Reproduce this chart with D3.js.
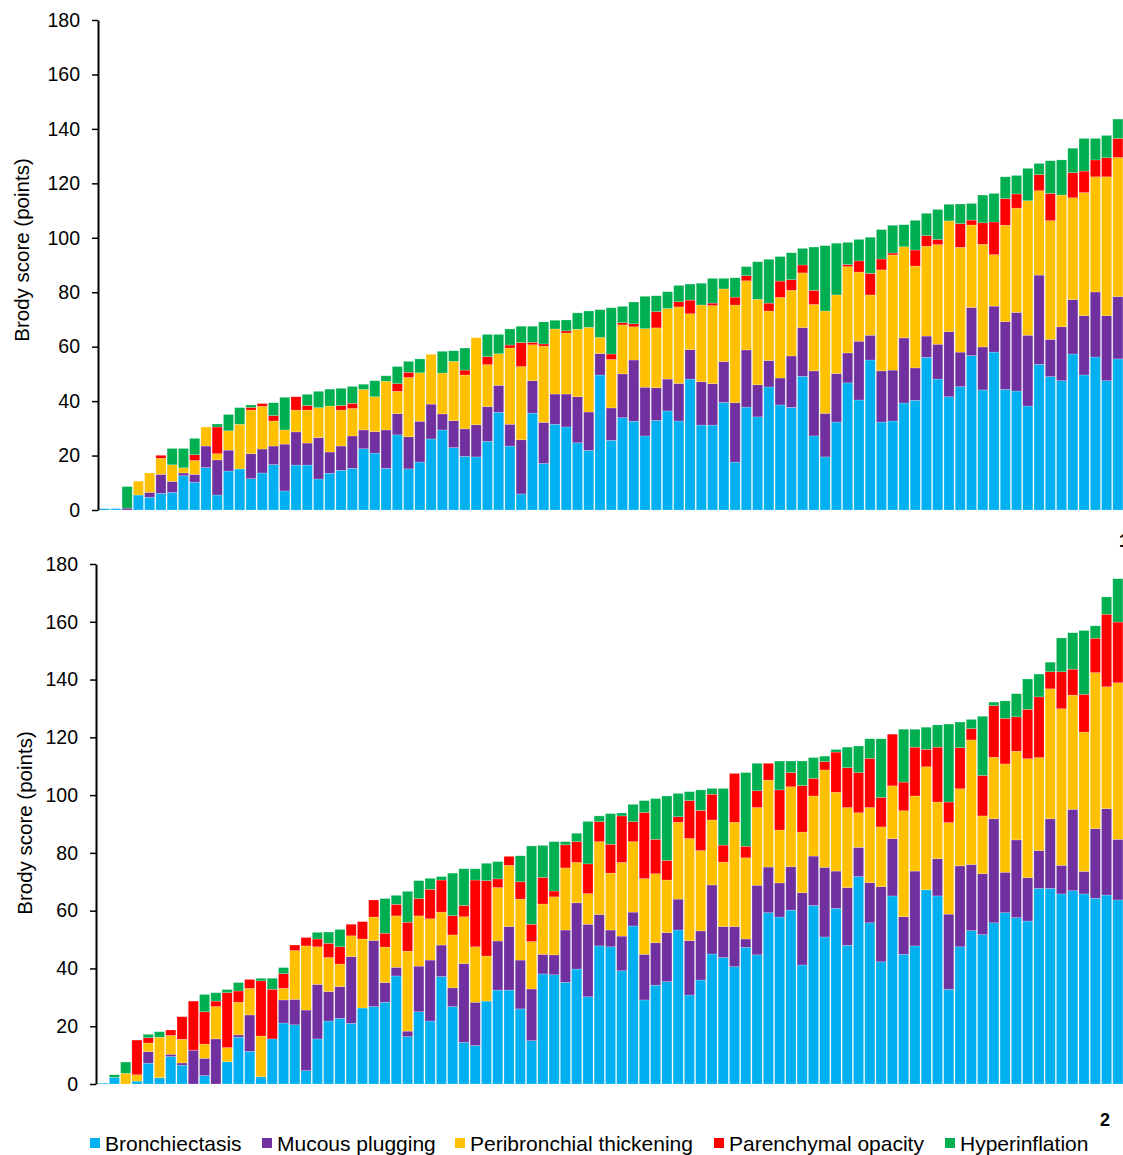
<!DOCTYPE html>
<html><head><meta charset="utf-8">
<script src="https://cdn.jsdelivr.net/npm/d3@7"></script>
<style>body{margin:0;background:#fff}svg{display:block}text{font-family:Arial,"Liberation Sans",sans-serif}</style>
</head><body>
<svg id="c" width="1123" height="1155"></svg>
<script>
const seriesNames = ["Bronchiectasis","Mucous plugging","Peribronchial thickening","Parenchymal opacity","Hyperinflation"];
const seriesColors = ["#00B0F0","#7030A0","#FFC000","#FF0000","#00B050"];
const yTicks = [0,20,40,60,80,100,120,140,160,180];

const topBronch = [0.5,0.5,0,5.5,4.7,6.1,6.5,12.6,10.2,15.6, 5.5,14.3,15.1,11.5,13.6,16.7,7.0,16.5,16.5,11.4, 13.5,14.6,15.3,22.5,20.9,15.3,27.6,15.1,17.6,26.1, 29.4,22.9,19.7,19.5,25.2,35.9,23.5,5.9,35.6,17.1, 31.5,30.5,24.7,21.9,49.6,25.6,33.9,32.6,27.2,32.9, 36.4,32.7,48.1,31.2,31.2,39.5,17.6,37.8,34.2,45.2, 38.6,37.7,49.1,27.2,19.5,32.3,46.7,40.4,55.1,32.3, 32.7,39.3,40.3,56.1,48.1,41.6,45.3,56.7,44.1,58.0, 44.3,43.7,38.2,53.5,49.0,47.5,57.3,49.6,56.2,47.5, 55.5];
const topMucous = [0,0,0.7,0,1.8,7.0,4.0,1.0,2.9,7.9, 12.9,7.7,0,9.2,8.8,6.8,17.2,12.2,8.1,15.2, 7.8,8.9,11.9,6.9,7.9,14.1,7.8,11.8,15.0,12.8, 5.9,9.9,10.1,11.8,12.8,9.9,8.0,19.9,11.9,15.1, 11.1,12.1,16.9,14.1,7.9,11.9,16.1,22.5,17.9,12.0, 11.7,13.8,10.8,15.9,15.2,15.0,21.8,21.0,11.8,9.7, 9.9,18.9,17.9,23.9,16.0,17.8,11.0,21.6,9.1,18.8, 18.7,23.9,11.9,7.8,12.8,23.9,12.7,17.7,15.8,16.9, 24.9,28.9,26.0,32.8,13.7,19.8,20.0,21.8,23.9,23.9, 22.9];
const topPeri = [0,0,0,5.1,7.1,5.9,6.1,1.9,5.1,7.0, 2.3,7.1,16.4,16.0,15.7,9.2,5.2,8.0,12.1,11.0, 16.9,13.2,10.1,14.9,12.8,17.9,8.2,21.8,17.8,18.3, 15.0,21.8,19.8,32.0,15.4,11.6,28.0,26.9,13.2,28.0, 23.9,22.4,24.8,31.1,5.9,17.8,18.0,12.2,21.5,22.0, 25.9,28.1,13.2,28.2,28.7,26.7,35.9,25.4,31.4,18.2, 29.6,24.1,20.1,24.4,37.6,28.9,31.7,25.4,14.8,37.1, 42.3,33.5,37.4,33.0,36.6,40.7,38.5,30.3,37.7,18.9, 35.4,38.3,49.4,31.0,43.6,48.4,37.4,45.2,42.3,51.0, 51.1];
const topParen = [0,0,0,0,0,1.1,0,0,2.1,0, 9.8,0,0,1.0,1.0,2.0,0,4.9,1.7,0, 0,1.7,1.9,0,0,0,2.8,1.9,0,0, 0,0,1.8,0,2.9,0,1.1,8.8,0.9,0.8, 0,0.8,0,0,0,2.0,0.8,1.1,0,6.0, 0,1.9,5.0,0,0.9,0,2.9,1.9,0,2.9, 6.0,3.9,2.9,5.2,0,0,0.8,4.1,7.9,4.0, 0.7,0,5.9,3.9,1.9,0,8.7,1.8,7.9,12.0, 9.8,5.2,0,5.9,10.0,0,9.2,7.9,6.2,7.0, 7.0];
const topHyper = [0,0,7.9,0,0,0,6.0,7.1,6.0,0, 1.1,6.0,6.1,0.9,0,4.7,12.0,0,4.1,6.0, 6.2,6.3,6.2,1.9,5.9,2.0,6.3,4.0,5.1,0, 8.0,3.9,8.1,0,8.2,7.1,5.9,6.0,5.9,8.1, 3.2,4.0,6.0,6.0,10.2,17.0,6.0,8.0,11.9,5.8, 6.2,6.0,5.9,8.0,9.1,3.9,7.1,3.3,13.8,16.1, 9.0,9.9,6.1,15.9,24.0,19.0,8.1,7.9,13.3,10.8, 10.2,8.1,10.9,8.2,11.0,6.1,7.2,6.1,10.2,10.5, 8.0,6.8,11.9,4.1,12.0,12.9,9.0,12.0,7.9,8.2, 7.1];

const botBronch = [0.3,2.3,0,1.0,7.2,2.2,9.5,6.5,0,2.9, 0,7.7,16.2,11.3,2.5,15.6,21.1,20.5,4.6,15.6, 21.8,22.7,21.0,26.3,26.8,28.3,37.4,16.4,25.0,21.8, 37.2,26.8,14.4,13.3,28.7,32.5,32.5,26.0,15.0,38.1, 37.8,35.2,39.8,30.2,47.8,47.5,39.2,54.7,29.1,34.2, 35.4,53.3,30.8,36.0,45.0,43.8,40.6,47.3,44.7,59.3, 57.8,60.2,41.2,61.8,50.9,60.8,48.0,71.8,55.8,42.3, 65.1,44.9,47.8,67.2,65.1,32.8,47.5,53.1,51.7,55.8, 59.3,57.6,56.4,67.7,67.7,65.8,66.9,65.8,64.3,65.4, 63.7];
const botMucous = [0,0,0,0,4.0,0,0.8,0.8,11.7,6.0, 15.6,0,0.8,12.6,0,0,8.0,8.8,21.0,18.9, 10.2,11.0,23.1,0,22.9,6.8,3.0,1.9,15.8,21.1, 10.9,6.5,27.3,15.0,0,17.0,22.0,16.9,17.9,6.8, 6.9,18.1,22.9,25.1,10.9,5.8,12.0,4.8,15.8,14.7, 17.0,10.7,18.8,17.0,23.9,10.7,13.9,2.9,24.1,15.8, 11.8,15.0,25.0,17.1,24.1,12.9,20.0,10.1,13.9,26.0, 19.8,13.0,25.9,0,12.9,26.0,28.0,22.9,21.1,36.0, 14.0,26.9,15.0,13.1,24.1,9.9,28.2,7.8,24.1,29.9, 21.0];
const botPeri = [0,0,3.7,2.2,3.0,14.0,6.5,8.2,0,4.9, 11.2,4.9,11.3,9.2,14.1,0,4.0,16.9,22.2,13.0, 11.8,7.8,7.2,23.9,8.1,12.3,17.8,27.7,17.4,14.3, 11.4,18.3,16.2,19.2,15.6,18.5,21.2,21.1,16.4,17.4, 20.1,21.5,14.0,10.6,25.2,19.7,25.5,24.4,26.2,23.9, 18.2,26.6,35.4,27.8,22.5,22.3,36.1,28.1,26.9,30.1, 18.3,27.7,21.0,20.8,33.7,27.3,27.7,12.0,26.0,20.7, 18.3,36.7,26.0,42.6,19.6,31.7,26.7,43.1,20.0,21.3, 37.5,30.7,41.2,32.2,45.0,54.2,39.5,48.2,54.0,42.2, 54.2];
const botParen = [0,0,0,12.0,1.8,0,1.9,7.8,17.0,11.2, 1.9,19.0,3.9,3.1,19.1,17.2,5.1,1.9,2.9,2.7, 4.9,6.0,4.0,6.0,5.9,4.8,4.0,10.0,6.0,10.2, 11.1,6.7,3.9,23.1,26.1,3.0,3.1,6.0,6.0,9.2, 2.0,8.0,7.2,10.3,6.9,10.0,16.1,6.9,22.9,11.9, 6.8,1.9,13.1,13.9,8.9,5.9,16.9,4.0,5.8,5.8, 13.9,4.9,16.1,6.1,2.9,13.9,13.8,13.9,17.0,10.2, 17.9,9.9,16.9,6.0,19.0,7.1,14.2,3.9,14.0,17.9, 15.8,11.9,17.1,21.0,5.9,12.8,9.0,13.1,11.9,25.1, 21.0];
const botHyper = [0,0.9,3.9,0,1.2,1.9,0,0,0,6.0, 2.9,1.1,2.9,0,0.9,3.8,2.1,0,0,2.3, 3.9,6.0,0,0,0,12.0,3.1,10.7,6.2,3.8, 1.2,14.7,12.7,3.9,6.0,6.0,0,9.0,27.1,11.1, 17.1,1.1,2.9,14.7,2.0,10.6,1.0,6.0,4.1,14.1, 22.3,8.1,3.1,7.1,2.0,19.6,0,25.5,9.5,0, 10.0,4.0,8.5,7.2,1.9,0.9,7.1,9.2,6.8,20.3, 0,18.3,6.2,7.7,7.7,27.0,8.9,3.2,20.5,1.2, 6.0,8.0,10.5,7.9,3.3,11.7,12.6,22.1,4.3,6.0, 15.0];

const svg = d3.select("#c");
const keys = ["b","m","p","r","g"];

function drawChart(cfg){
  const n = cfg.series[0].length;
  const rows = d3.range(n).map(i => ({i, b:cfg.series[0][i], m:cfg.series[1][i], p:cfg.series[2][i], r:cfg.series[3][i], g:cfg.series[4][i]}));
  const x = d3.scaleBand().domain(d3.range(n)).range([cfg.x0, cfg.x1]).paddingInner(0.1).paddingOuter(0.05);
  const y = d3.scaleLinear().domain([0,180]).range([cfg.yBottom, cfg.yTop]);
  const stack = d3.stack().keys(keys)(rows);
  const g = svg.append("g");
  g.selectAll("g.s").data(stack).join("g").attr("fill", (d,k)=>seriesColors[k])
    .selectAll("rect").data(d=>d).join("rect")
    .attr("x", d=>x(d.data.i)).attr("width", x.bandwidth())
    .attr("y", d=>y(d[1])).attr("height", d=>Math.max(0, y(d[0])-y(d[1])))
    .attr("stroke","rgba(255,255,255,0.35)").attr("stroke-width",0.6);
  const ax = g.append("g").attr("transform",`translate(${cfg.axisX},0)`)
    .call(d3.axisLeft(y).tickValues(yTicks).tickSize(6).tickPadding(12).tickSizeOuter(0));
  ax.select(".domain").attr("stroke","#000").attr("stroke-width",2);
  ax.selectAll(".tick line").attr("stroke","#000").attr("stroke-width",1.5);
  ax.selectAll(".tick text").attr("font-size",19.5).attr("fill","#000").attr("font-family","Arial, Liberation Sans, sans-serif");
  g.append("text").attr("transform",`translate(${cfg.labelX},${cfg.labelY}) rotate(-90)`)
    .attr("text-anchor","middle").attr("font-size",20.5).attr("fill","#000").text("Brody score (points)");
}

drawChart({series:[topBronch,topMucous,topPeri,topParen,topHyper], x0:99, x1:1123.5, yTop:20, yBottom:510, axisX:98, labelX:29, labelY:250});
drawChart({series:[botBronch,botMucous,botPeri,botParen,botHyper], x0:97.5, x1:1123.5, yTop:564, yBottom:1084, axisX:96, labelX:32, labelY:823});

svg.append("text").attr("x",1119).attr("y",547).attr("font-size",18).attr("font-weight","bold").text("1");
svg.append("text").attr("x",1100).attr("y",1126).attr("font-size",18).attr("font-weight","bold").text("2");

const legendX = [90, 262, 455, 714, 945];
const lg = svg.append("g");
seriesNames.forEach((name,k)=>{
  lg.append("rect").attr("x",legendX[k]).attr("y",1138).attr("width",10).attr("height",10).attr("fill",seriesColors[k]);
  lg.append("text").attr("x",legendX[k]+15).attr("y",1151).attr("font-size",21).attr("fill","#000").text(name);
});
</script>
</body></html>
